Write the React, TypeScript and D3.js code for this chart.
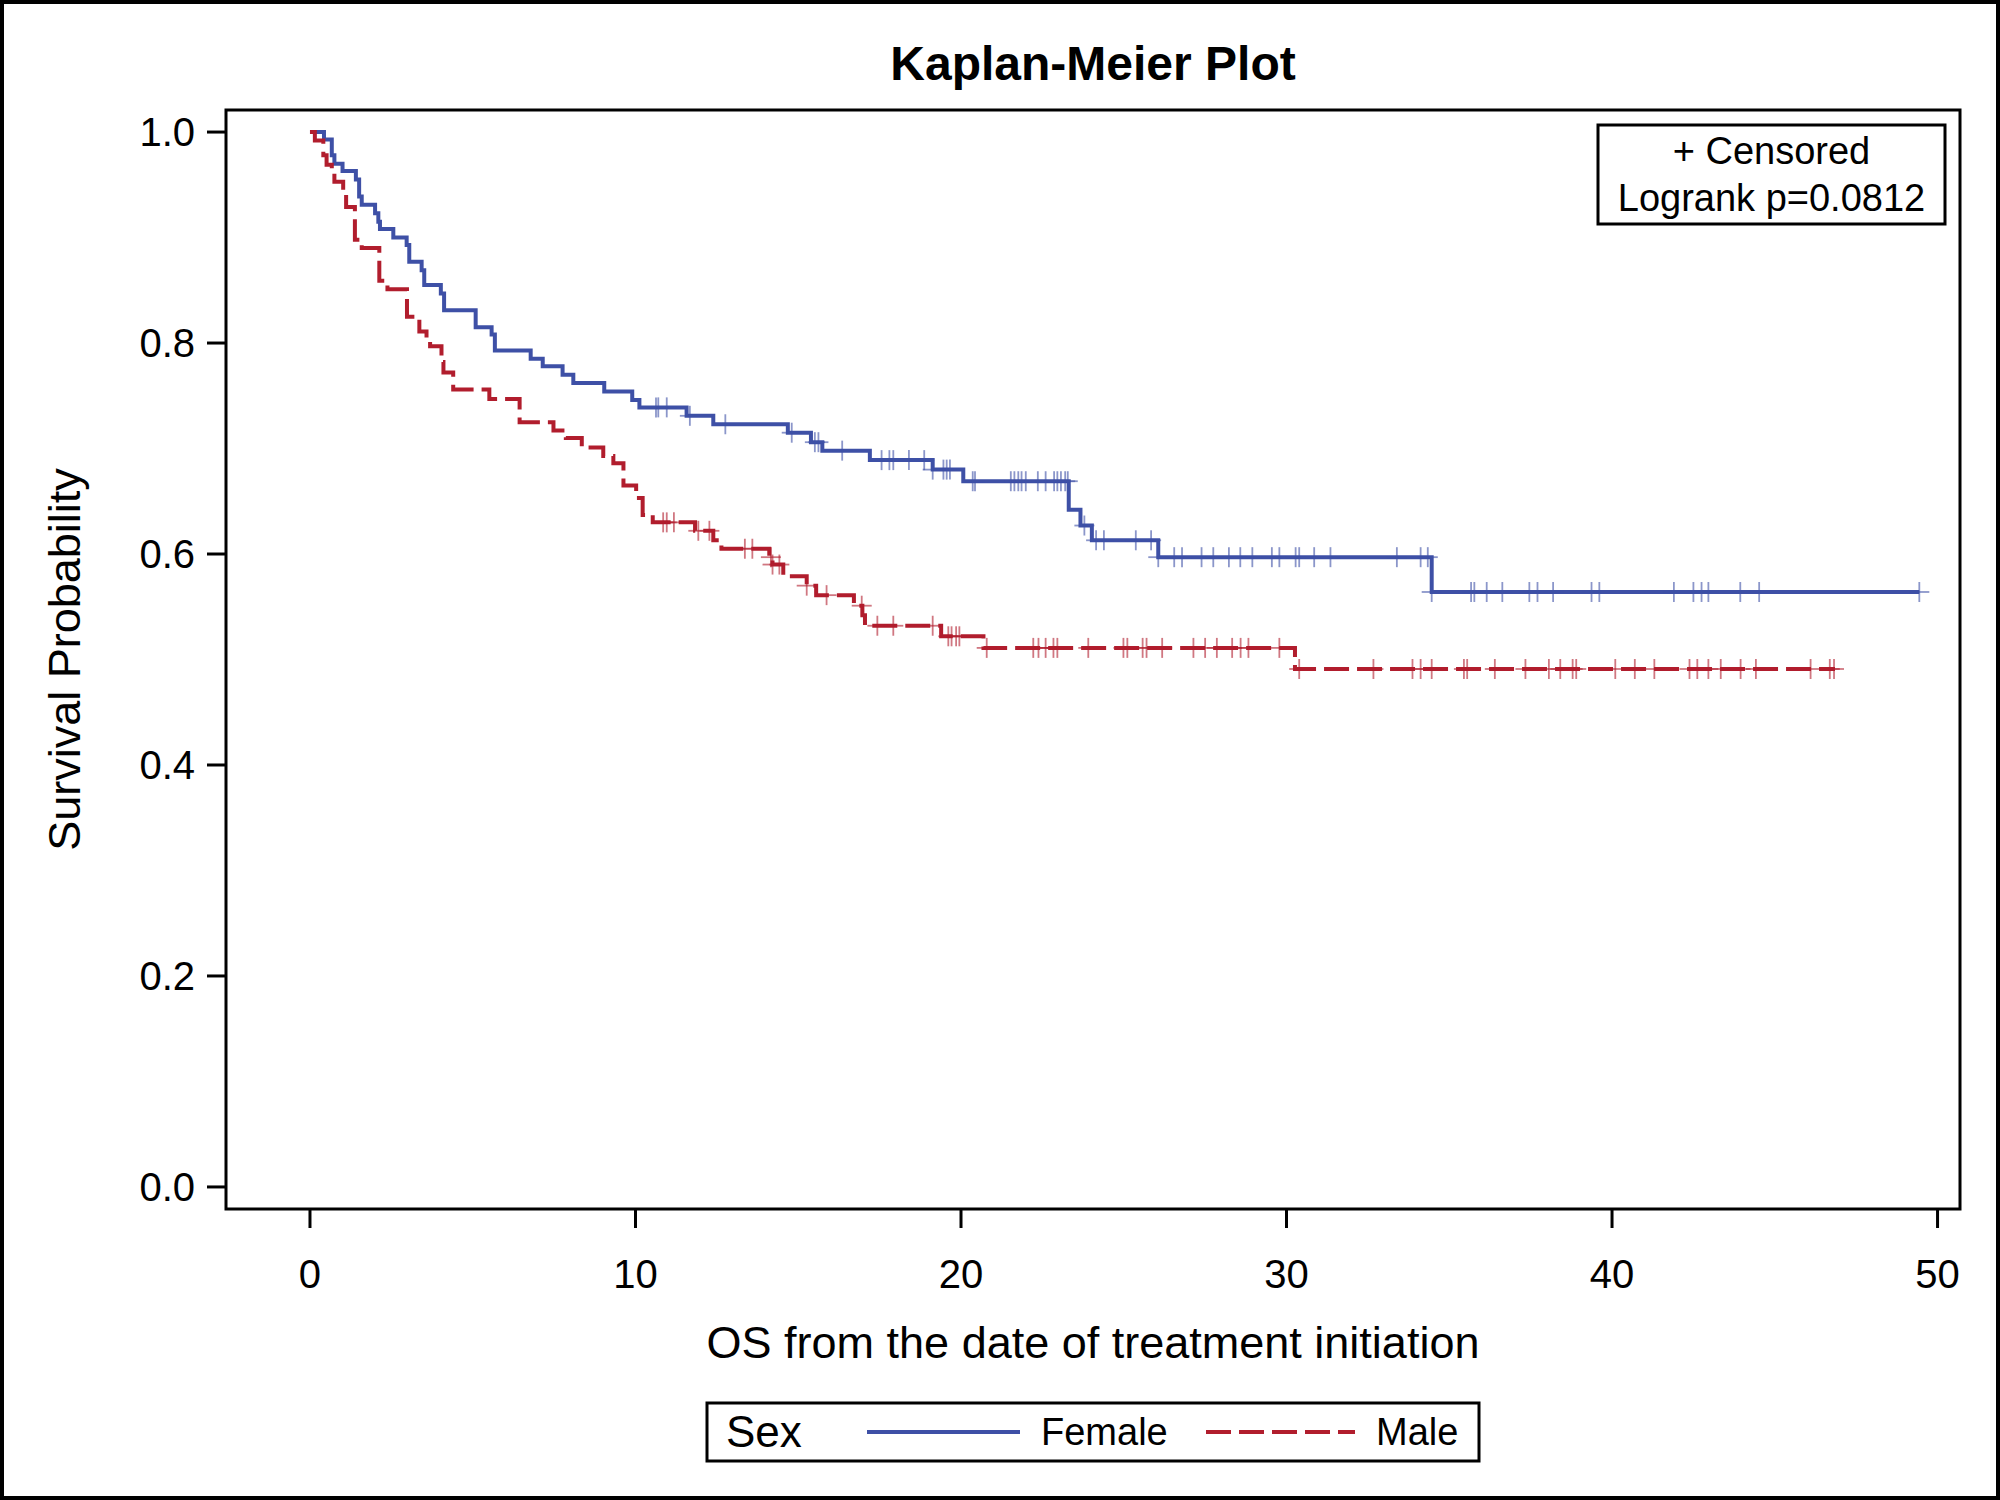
import React from "react";
import * as d3 from "d3";

// ---------- data ----------
const femaleTimes = [0, 0.43, 0.67, 0.75, 1.0, 1.41, 1.51, 1.59, 2.0, 2.1, 2.15, 2.56, 2.97, 3.05, 3.43, 3.51, 4.02, 4.12, 5.09, 5.58, 5.68, 6.78, 7.15, 7.76, 8.09, 9.04, 9.9, 10.12, 11.57, 12.39, 14.68, 15.39, 15.74, 17.2, 19.13, 20.07, 23.31, 23.67, 24.02, 26.06, 34.46];
const femaleSurv = [1.0, 0.993, 0.978, 0.97, 0.963, 0.955, 0.939, 0.931, 0.923, 0.915, 0.908, 0.9, 0.893, 0.877, 0.869, 0.855, 0.847, 0.831, 0.815, 0.808, 0.793, 0.785, 0.778, 0.77, 0.762, 0.754, 0.746, 0.739, 0.731, 0.723, 0.715, 0.706, 0.698, 0.689, 0.68, 0.669, 0.642, 0.627, 0.613, 0.597, 0.564];
const femaleCensor = [10.63, 10.7, 10.96, 11.67, 12.76, 14.8, 15.51, 15.62, 16.35, 17.56, 17.8, 17.92, 18.4, 18.87, 19.13, 19.46, 19.56, 19.66, 20.36, 20.43, 21.53, 21.64, 21.76, 21.86, 21.99, 22.36, 22.6, 22.86, 22.96, 23.07, 23.2, 23.28, 23.79, 24.15, 24.39, 25.37, 25.84, 26.06, 26.55, 26.79, 27.39, 27.75, 28.23, 28.58, 28.95, 29.55, 29.78, 30.28, 30.39, 30.85, 31.35, 33.39, 34.12, 34.34, 34.46, 35.67, 35.77, 36.15, 36.63, 37.46, 37.71, 38.19, 39.37, 39.61, 41.9, 42.5, 42.75, 42.96, 43.94, 44.52, 49.44];
const femaleEnd = 49.44;

const maleTimes = [0, 0.15, 0.41, 0.51, 0.67, 0.75, 1.02, 1.11, 1.38, 1.59, 2.13, 2.38, 2.98, 3.36, 3.58, 3.69, 4.04, 4.1, 4.4, 5.51, 6.44, 7.48, 7.86, 8.35, 9.01, 9.32, 9.63, 10.02, 10.22, 10.53, 11.83, 12.39, 12.64, 14.11, 14.21, 14.54, 15.26, 15.55, 16.71, 16.97, 17.05, 19.39, 20.69, 30.26];
const maleSurv = [1.0, 0.992, 0.978, 0.969, 0.961, 0.953, 0.944, 0.929, 0.898, 0.89, 0.859, 0.851, 0.825, 0.811, 0.803, 0.797, 0.782, 0.772, 0.756, 0.747, 0.725, 0.717, 0.71, 0.701, 0.693, 0.686, 0.665, 0.653, 0.637, 0.63, 0.622, 0.613, 0.605, 0.597, 0.59, 0.579, 0.57, 0.561, 0.551, 0.542, 0.532, 0.522, 0.511, 0.491];
const maleCensor = [10.85, 10.96, 11.18, 11.93, 12.27, 13.36, 13.59, 14.16, 14.21, 14.42, 15.26, 15.87, 16.95, 17.43, 17.92, 19.13, 19.61, 19.71, 19.85, 19.95, 20.79, 22.22, 22.38, 22.6, 22.84, 22.96, 23.91, 24.99, 25.11, 25.58, 25.7, 26.18, 27.14, 27.5, 27.86, 28.33, 28.59, 28.83, 29.78, 30.39, 32.67, 33.87, 34.12, 34.46, 35.45, 35.55, 36.4, 37.34, 38.06, 38.41, 38.79, 38.9, 40.1, 40.7, 41.3, 42.38, 42.62, 42.96, 43.34, 43.95, 44.42, 46.1, 46.69, 46.82];
const maleEnd = 46.85;

const xTicks = [0, 10, 20, 30, 40, 50];
const yTicks = [0.0, 0.2, 0.4, 0.6, 0.8, 1.0];
const groupNames = ["Female", "Male"];
const legendTitle = "Sex";
const chartTitle = "Kaplan-Meier Plot";
const xLabel = "OS from the date of treatment initiation";
const yLabel = "Survival Probability";
const insetLines = ["+ Censored", "Logrank p=0.0812"];

const BLUE = "#3E50A6";
const RED = "#B11D2D";
const FONT = "'Liberation Sans', Arial, Helvetica, sans-serif";
const DASH = "25 8";

export default function App() {
  const W = 2000;
  const H = 1500;
  const left = 226, right = 1960, top = 110, bottom = 1209;

  const x = d3.scaleLinear().domain([-2.58, 50.69]).range([left, right]);
  const y = d3.scaleLinear().domain([-0.0209, 1.0209]).range([bottom, top]);

  const line = d3
    .line<[number, number]>()
    .x((d) => x(d[0]))
    .y((d) => y(d[1]))
    .curve(d3.curveStepAfter);

  const pts = (times: number[], surv: number[], end: number): [number, number][] => {
    const p: [number, number][] = times.map((t, i) => [t, surv[i]]);
    p.push([end, surv[surv.length - 1]]);
    return p;
  };
  const survAt = (times: number[], surv: number[], t: number) => {
    const i = d3.bisectRight(times, t) - 1;
    return surv[Math.max(0, i)];
  };

  const groups = [
    { name: groupNames[0], times: femaleTimes, surv: femaleSurv, censor: femaleCensor, end: femaleEnd, color: BLUE, dash: undefined as string | undefined },
    { name: groupNames[1], times: maleTimes, surv: maleSurv, censor: maleCensor, end: maleEnd, color: RED, dash: DASH },
  ];

  const tickLen = 19;
  const cs = 10; // censor half-size
  const axisW = 3;
  const curveW = 4;

  return (
    <svg
      width={W}
      height={H}
      viewBox={`0 0 ${W} ${H}`}
      style={{ position: "absolute", left: 0, top: 0, display: "block", background: "#fff" }}
      fontFamily={FONT}
    >
      <rect x={0} y={0} width={W} height={H} fill="#fff" />
      <rect x={2} y={2} width={W - 4} height={H - 4} fill="none" stroke="#000" strokeWidth={4} />

      {/* title */}
      <text x={(left + right) / 2} y={80} textAnchor="middle" fontSize={48} fontWeight="bold" fill="#000">
        {chartTitle}
      </text>

      {/* curves */}
      {groups.map((g) => (
        <g key={g.name}>
          <path
            d={line(pts(g.times, g.surv, g.end)) || ""}
            fill="none"
            stroke={g.color}
            strokeWidth={curveW}
            strokeDasharray={g.dash}
            strokeLinejoin="miter"
            strokeLinecap="butt"
          />
          {g.censor.map((t, i) => {
            const cx = x(t);
            const cy = y(survAt(g.times, g.surv, t));
            return (
              <g key={i} stroke={g.color} strokeOpacity={0.6} strokeWidth={1.8}>
                <line x1={cx} x2={cx} y1={cy - cs} y2={cy + cs} />
                <line x1={cx - cs} x2={cx + cs} y1={cy} y2={cy} />
              </g>
            );
          })}
        </g>
      ))}

      {/* frame */}
      <rect x={left} y={top} width={right - left} height={bottom - top} fill="none" stroke="#000" strokeWidth={axisW} />

      {/* y axis */}
      {yTicks.map((v) => (
        <g key={v}>
          <line x1={left - tickLen} x2={left} y1={y(v)} y2={y(v)} stroke="#000" strokeWidth={axisW} />
          <text x={left - tickLen - 12} y={y(v)} dy="0.36em" textAnchor="end" fontSize={40} fill="#000">
            {v.toFixed(1)}
          </text>
        </g>
      ))}
      {/* x axis */}
      {xTicks.map((v) => (
        <g key={v}>
          <line x1={x(v)} x2={x(v)} y1={bottom} y2={bottom + tickLen} stroke="#000" strokeWidth={axisW} />
          <text x={x(v)} y={1288} textAnchor="middle" fontSize={40} fill="#000">
            {v}
          </text>
        </g>
      ))}

      <text x={(left + right) / 2} y={1358} textAnchor="middle" fontSize={45} fill="#000">
        {xLabel}
      </text>
      <text
        transform={`translate(80, ${(top + bottom) / 2}) rotate(-90)`}
        textAnchor="middle"
        fontSize={45}
        fill="#000"
      >
        {yLabel}
      </text>

      {/* inset */}
      <rect x={1598} y={125} width={347} height={99} fill="#fff" stroke="#000" strokeWidth={axisW} />
      <text x={1771.5} y={164} textAnchor="middle" fontSize={38} fill="#000">
        {insetLines[0]}
      </text>
      <text x={1771.5} y={211} textAnchor="middle" fontSize={38} fill="#000">
        {insetLines[1]}
      </text>

      {/* legend */}
      <rect x={707} y={1403} width={772} height={58} fill="#fff" stroke="#000" strokeWidth={axisW} />
      <text x={726} y={1447} fontSize={44} fill="#000">
        {legendTitle}
      </text>
      <line x1={867} x2={1020} y1={1432} y2={1432} stroke={BLUE} strokeWidth={curveW} />
      <text x={1041} y={1445} fontSize={38} fill="#000">
        {groupNames[0]}
      </text>
      <line x1={1206} x2={1355} y1={1432} y2={1432} stroke={RED} strokeWidth={curveW} strokeDasharray={DASH} />
      <text x={1376} y={1445} fontSize={38} fill="#000">
        {groupNames[1]}
      </text>
    </svg>
  );
}
